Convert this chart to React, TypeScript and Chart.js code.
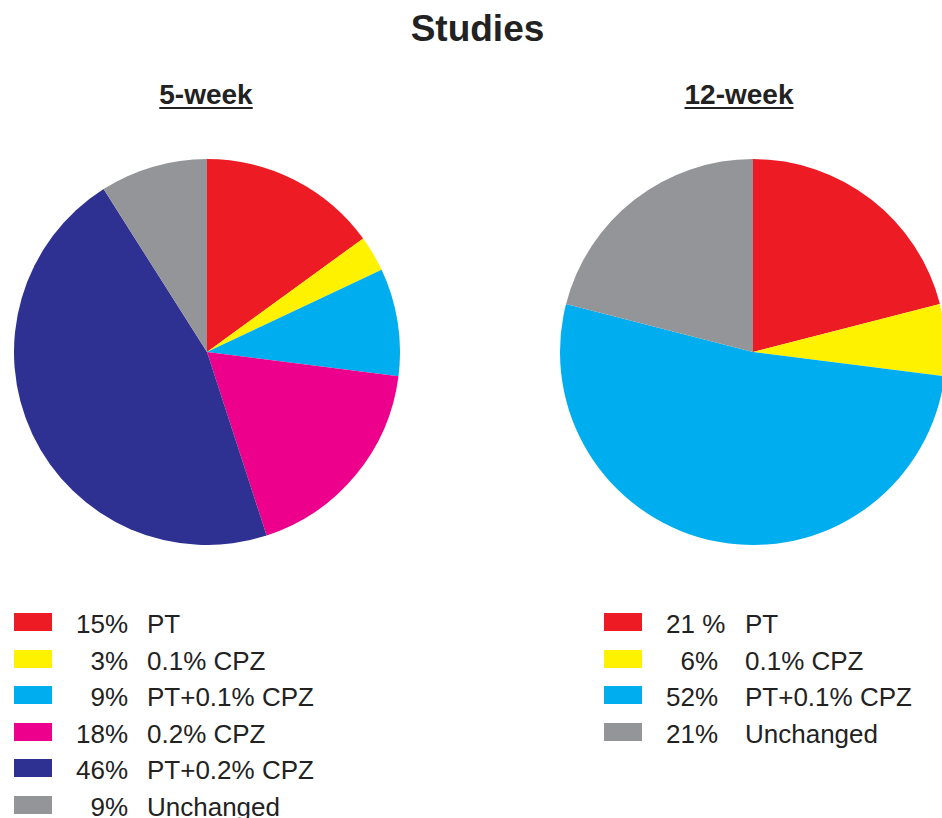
import React, { useEffect, useRef } from "react";
import { Chart, registerables } from "chart.js";

Chart.register(...registerables);

const mainTitle = "Studies";
const subtitles = ["5-week", "12-week"];

const categories5 = ["PT", "0.1% CPZ", "PT+0.1% CPZ", "0.2% CPZ", "PT+0.2% CPZ", "Unchanged"];
const values5 = [15, 3, 9, 18, 46, 9];
const pctLabels5 = ["15%", "3%", "9%", "18%", "46%", "9%"];
const colors5 = ["#ED1C24", "#FFF200", "#00AEEF", "#EC008C", "#2E3192", "#939598"];

const categories12 = ["PT", "0.1% CPZ", "PT+0.1% CPZ", "Unchanged"];
const values12 = [21, 6, 52, 21];
const pctLabels12 = ["21 %", "6%", "52%", "21%"];
const colors12 = ["#ED1C24", "#FFF200", "#00AEEF", "#939598"];

const FONT = '"Liberation Sans", Arial, Helvetica, sans-serif';

function PieCanvas(props: { labels: string[]; values: number[]; colors: string[]; left: number; top: number; size: number }) {
  const ref = useRef<HTMLCanvasElement | null>(null);
  useEffect(() => {
    if (!ref.current) return;
    const chart = new Chart(ref.current, {
      type: "pie",
      data: {
        labels: props.labels,
        datasets: [
          {
            data: props.values,
            backgroundColor: props.colors,
            borderWidth: 0,
          },
        ],
      },
      options: {
        responsive: false,
        animation: false,
        layout: { padding: 0 },
        plugins: {
          legend: { display: false },
          tooltip: { enabled: false },
          title: { display: false },
        },
      },
    });
    return () => chart.destroy();
  }, []);
  return (
    <canvas
      ref={ref}
      width={props.size}
      height={props.size}
      style={{ position: "absolute", left: props.left, top: props.top, width: props.size, height: props.size }}
    />
  );
}

function Legend(props: {
  labels: string[];
  pcts: string[];
  colors: string[];
  swatchLeft: number;
  numRight: number;
  textLeft: number;
}) {
  const rowStep = 36.6;
  return (
    <>
      {props.labels.map((lab, i) => {
        const m = props.pcts[i].match(/^(\d+)(.*)$/);
        const num = m ? m[1] : props.pcts[i];
        const suffix = m ? m[2] : "";
        const top = 613 + i * rowStep;
        return (
          <React.Fragment key={i}>
            <div
              style={{
                position: "absolute",
                left: props.swatchLeft,
                top: top,
                width: 38,
                height: 18,
                background: props.colors[i],
              }}
            />
            <div
              style={{
                position: "absolute",
                left: props.numRight - 80,
                width: 80,
                top: top - 2,
                textAlign: "right",
                font: `26px ${FONT}`,
                lineHeight: "26px",
                color: "#222",
                whiteSpace: "pre",
              }}
            >
              {num}
            </div>
            <div
              style={{
                position: "absolute",
                left: props.numRight,
                top: top - 2,
                font: `26px ${FONT}`,
                lineHeight: "26px",
                color: "#222",
                whiteSpace: "pre",
              }}
            >
              {suffix}
            </div>
            <div
              style={{
                position: "absolute",
                left: props.textLeft,
                top: top - 2,
                font: `26px ${FONT}`,
                lineHeight: "26px",
                color: "#222",
                whiteSpace: "pre",
              }}
            >
              {lab}
            </div>
          </React.Fragment>
        );
      })}
    </>
  );
}

export default function App() {
  return (
    <div
      style={{
        position: "fixed",
        left: 0,
        top: 0,
        width: 942,
        height: 818,
        overflow: "hidden",
        background: "#ffffff",
      }}
    >
      <div
        style={{
          position: "absolute",
          left: 0,
          width: 955,
          top: 10,
          textAlign: "center",
          font: `bold 37px ${FONT}`,
          lineHeight: "37px",
          color: "#222",
        }}
      >
        {mainTitle}
      </div>
      <div
        style={{
          position: "absolute",
          left: 106,
          width: 200,
          top: 81,
          textAlign: "center",
          font: `bold 28px ${FONT}`,
          lineHeight: "28px",
          color: "#222",
        }}
      >
        <span style={{ textDecoration: "underline", textDecorationThickness: "2px", textUnderlineOffset: "3px" }}>
          {subtitles[0]}
        </span>
      </div>
      <div
        style={{
          position: "absolute",
          left: 639,
          width: 200,
          top: 81,
          textAlign: "center",
          font: `bold 28px ${FONT}`,
          lineHeight: "28px",
          color: "#222",
        }}
      >
        <span style={{ textDecoration: "underline", textDecorationThickness: "2px", textUnderlineOffset: "3px" }}>
          {subtitles[1]}
        </span>
      </div>

      <PieCanvas labels={categories5} values={values5} colors={colors5} left={14} top={159} size={386} />
      <PieCanvas labels={categories12} values={values12} colors={colors12} left={560} top={159} size={386} />

      <Legend labels={categories5} pcts={pctLabels5} colors={colors5} swatchLeft={14} numRight={105} textLeft={147} />
      <Legend labels={categories12} pcts={pctLabels12} colors={colors12} swatchLeft={604} numRight={695} textLeft={745} />
    </div>
  );
}
